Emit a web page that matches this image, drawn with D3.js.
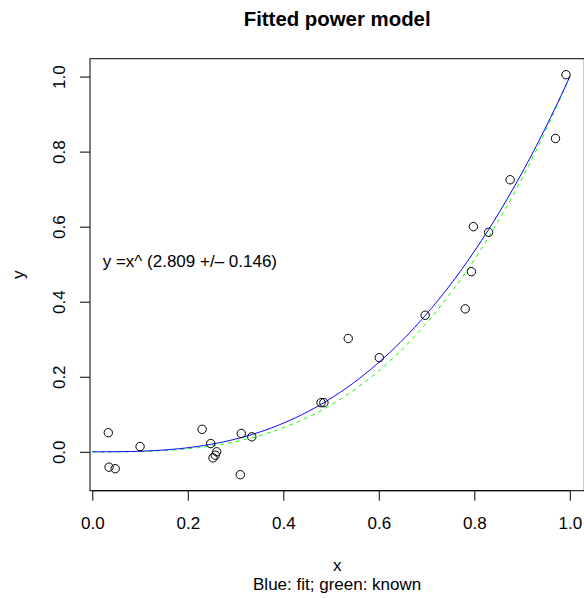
<!DOCTYPE html>
<html>
<head>
<meta charset="utf-8">
<script src="https://cdn.jsdelivr.net/npm/d3@7"></script>
<style>
  html, body { margin: 0; padding: 0; background: #fff; }
  svg { display: block; font-family: "Liberation Sans", Arial, Helvetica, sans-serif; }
</style>
</head>
<body>
<script>
const xs = [0.0335, 0.035, 0.048, 0.100, 0.230, 0.248, 0.2605, 0.2576, 0.2528, 0.312, 0.334, 0.310,
            0.479, 0.485, 0.536, 0.601, 0.697, 0.781, 0.794, 0.798, 0.830, 0.875, 0.970, 0.992];
const ys = [0.051, -0.041, -0.045, 0.014, 0.060, 0.022, 0.000, -0.009, -0.016, 0.049, 0.040, -0.061,
            0.131, 0.131, 0.302, 0.251, 0.364, 0.381, 0.480, 0.600, 0.585, 0.725, 0.835, 1.005];

// model exponents (fit shown in the label, known = cubic)
const fitPower = 2.809;
const fitSE = 0.146;
const knownPower = 3;

const xTicks = [0, 0.2, 0.4, 0.6, 0.8, 1.0];
const yTicks = [0, 0.2, 0.4, 0.6, 0.8, 1.0];

const W = 584, H = 598;
const box = { left: 90, right: 584.3, top: 58.7, bottom: 490.7 };
const fs = 17;

// R style limits: data range padded by 4%
const pad = (ext) => { const d = (ext[1] - ext[0]) * 0.04; return [ext[0] - d, ext[1] + d]; };

const x = d3.scaleLinear().domain(pad(d3.extent(xs))).range([box.left, box.right]);
const y = d3.scaleLinear().domain(pad(d3.extent(ys))).range([box.bottom, box.top]);

const svg = d3.select(document.body).append("svg")
    .attr("width", W)
    .attr("height", H);

// x axis
const gx = svg.append("g")
    .attr("transform", `translate(0,${box.bottom})`)
    .call(d3.axisBottom(x).tickValues(xTicks).tickFormat(d3.format(".1f")).tickSize(10).tickSizeOuter(0));
gx.select(".domain").remove();
gx.selectAll("line").attr("stroke", "#000");
gx.selectAll("text")
    .attr("y", 38.8).attr("dy", null)
    .attr("fill", "#000")
    .style("font-size", fs + "px");
gx.append("line")
    .attr("x1", x(xTicks[0])).attr("x2", x(xTicks[xTicks.length - 1]))
    .attr("stroke", "#000");

// y axis, labels turned like R's las=0
const gy = svg.append("g")
    .attr("transform", `translate(${box.left},0)`)
    .call(d3.axisLeft(y).tickValues(yTicks).tickFormat(d3.format(".1f")).tickSize(10).tickSizeOuter(0));
gy.select(".domain").remove();
gy.selectAll("line").attr("stroke", "#000");
gy.selectAll("text")
    .attr("x", 0).attr("y", -25).attr("dy", null)
    .attr("transform", "rotate(-90)")
    .attr("text-anchor", "middle")
    .attr("fill", "#000")
    .style("font-size", fs + "px");

// known curve (green dashed) and fitted curve (blue)
const grid = d3.range(0, 1.0001, 0.005);
const line = d3.line().x(d => x(d[0])).y(d => y(d[1]));

svg.append("path")
    .datum(grid.map(v => [v, Math.pow(v, knownPower)]))
    .attr("d", line)
    .attr("fill", "none")
    .attr("stroke", "#00ff00")
    .attr("stroke-width", 1)
    .attr("stroke-dasharray", "4,4");

svg.append("path")
    .datum(grid.map(v => [v, Math.pow(v, fitPower)]))
    .attr("d", line)
    .attr("fill", "none")
    .attr("stroke", "#0000ff")
    .attr("stroke-width", 1);

// points
svg.append("g")
    .selectAll("circle")
    .data(xs.map((v, i) => [v, ys[i]]))
    .enter()
    .append("circle")
    .attr("cx", d => x(d[0]))
    .attr("cy", d => y(d[1]))
    .attr("r", 4.2)
    .attr("fill", "none")
    .attr("stroke", "#000")
    .attr("stroke-width", 1);

// plot box
svg.append("rect")
    .attr("x", box.left).attr("y", box.top)
    .attr("width", box.right - box.left).attr("height", box.bottom - box.top)
    .attr("fill", "none")
    .attr("stroke", "#000");

// fit label
svg.append("text")
    .attr("x", x(0) + 10.4)
    .attr("y", y(0.5) + 2.5)
    .style("font-size", fs + "px")
    .text(`y =x^ (${fitPower.toFixed(3)} +/\u2013 ${fitSE.toFixed(3)})`);

// titles
const midX = (box.left + box.right) / 2;
svg.append("text")
    .attr("x", midX).attr("y", 26)
    .attr("text-anchor", "middle")
    .style("font-size", (fs * 1.2) + "px")
    .style("font-weight", "bold")
    .text("Fitted power model");

svg.append("text")
    .attr("x", midX).attr("y", 571)
    .attr("text-anchor", "middle")
    .style("font-size", fs + "px")
    .text("x");

svg.append("text")
    .attr("x", midX).attr("y", 590)
    .attr("text-anchor", "middle")
    .style("font-size", fs + "px")
    .text("Blue: fit; green: known");

svg.append("text")
    .attr("transform", `translate(24,${(box.top + box.bottom) / 2}) rotate(-90)`)
    .attr("text-anchor", "middle")
    .style("font-size", fs + "px")
    .text("y");
</script>
</body>
</html>
